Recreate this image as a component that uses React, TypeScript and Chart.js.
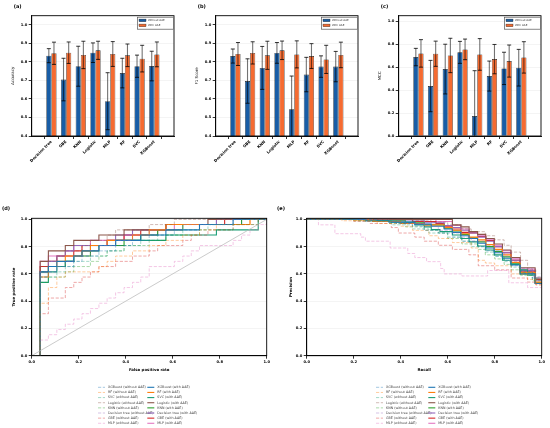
import { useEffect, useRef } from "react";
import { Chart, registerables } from "chart.js";

Chart.register(...registerables);

const FONT = "'DejaVu Sans', sans-serif";

// ---- bar panels (a)-(c) ----
const models = ["Decision tree", "GBE", "KNN", "Logistic", "MLP", "RF", "SVC", "XGBoost"];

const accWithout = [0.834, 0.705, 0.777, 0.85, 0.588, 0.74, 0.777, 0.778];
const accWithoutErr = [0.038, 0.115, 0.108, 0.053, 0.154, 0.08, 0.06, 0.08];
const accWith = [0.847, 0.85, 0.838, 0.863, 0.843, 0.836, 0.818, 0.841];
const accWithErr = [0.06, 0.058, 0.074, 0.049, 0.067, 0.061, 0.072, 0.067];

const f1Without = [0.832, 0.697, 0.768, 0.849, 0.544, 0.732, 0.775, 0.775];
const f1WithoutErr = [0.038, 0.12, 0.116, 0.056, 0.18, 0.093, 0.058, 0.082];
const f1With = [0.843, 0.849, 0.836, 0.863, 0.841, 0.832, 0.814, 0.838];
const f1WithErr = [0.062, 0.06, 0.076, 0.05, 0.073, 0.067, 0.076, 0.069];

const mccWithout = [0.689, 0.436, 0.584, 0.73, 0.174, 0.523, 0.59, 0.596];
const mccWithoutErr = [0.076, 0.224, 0.217, 0.096, 0.396, 0.131, 0.141, 0.16];
const mccWith = [0.721, 0.718, 0.703, 0.756, 0.712, 0.671, 0.654, 0.686];
const mccWithErr = [0.12, 0.11, 0.15, 0.09, 0.138, 0.128, 0.14, 0.137];

const scoreTicks = [0.4, 0.5, 0.6, 0.7, 0.8, 0.9, 1.0];
const mccTicks = [0, 0.2, 0.4, 0.6, 0.8, 1.0];
const unitTicks = [0, 0.2, 0.4, 0.6, 0.8, 1.0];

// ---- curve panels (d), (e) ----
const curveModels = ["XGBoost", "RF", "SVC", "Logistic", "KNN", "Decision tree", "GBE", "MLP"];
const curveColors = ["#1f77b4", "#ff7f0e", "#1b9e77", "#8c564b", "#2ca02c", "#9467bd", "#d62728", "#e377c2"];

type Pt = [number, number];

// ROC: [false positive rate, true positive rate]
const rocXgbWithout: Pt[] = [[0, 0], [0.036, 0.577], [0.071, 0.615], [0.107, 0.654], [0.179, 0.692], [0.214, 0.731], [0.286, 0.769], [0.357, 0.808], [0.429, 0.846], [0.5, 0.885], [0.607, 0.923], [0.714, 0.962], [0.857, 1], [1, 1]];
const rocRfWithout: Pt[] = [[0, 0], [0.036, 0.385], [0.071, 0.5], [0.107, 0.577], [0.143, 0.615], [0.286, 0.654], [0.321, 0.692], [0.357, 0.731], [0.429, 0.769], [0.5, 0.808], [0.571, 0.846], [0.643, 0.885], [0.714, 0.923], [0.786, 0.962], [0.929, 1], [1, 1]];
const rocSvcWithout: Pt[] = [[0, 0], [0.036, 0.577], [0.107, 0.615], [0.143, 0.654], [0.179, 0.692], [0.25, 0.731], [0.321, 0.769], [0.393, 0.808], [0.464, 0.846], [0.536, 0.885], [0.643, 0.923], [0.75, 0.962], [0.893, 1], [1, 1]];
const rocLogWithout: Pt[] = [[0, 0], [0.036, 0.654], [0.071, 0.692], [0.107, 0.731], [0.143, 0.769], [0.214, 0.808], [0.25, 0.846], [0.321, 0.885], [0.357, 0.923], [0.5, 0.962], [0.607, 1], [1, 1]];
const rocKnnWithout: Pt[] = [[0, 0], [0.036, 0.538], [0.071, 0.577], [0.143, 0.615], [0.179, 0.654], [0.25, 0.692], [0.286, 0.731], [0.321, 0.769], [0.393, 0.808], [0.5, 0.846], [0.571, 0.885], [0.714, 0.923], [0.857, 0.962], [0.964, 1], [1, 1]];
const rocDtWithout: Pt[] = [[0, 0], [0.036, 0.615], [0.107, 0.654], [0.143, 0.692], [0.179, 0.731], [0.25, 0.769], [0.286, 0.808], [0.357, 0.846], [0.429, 0.885], [0.5, 0.923], [0.643, 0.962], [0.786, 1], [1, 1]];
const rocGbeWithout: Pt[] = [[0, 0], [0.036, 0.308], [0.071, 0.423], [0.143, 0.5], [0.179, 0.538], [0.214, 0.577], [0.25, 0.615], [0.286, 0.654], [0.357, 0.692], [0.429, 0.731], [0.5, 0.769], [0.536, 0.808], [0.643, 0.846], [0.679, 0.885], [0.75, 0.923], [0.857, 0.962], [0.964, 1], [1, 1]];
const rocMlpWithout: Pt[] = [[0, 0], [0.036, 0.115], [0.071, 0.154], [0.107, 0.192], [0.143, 0.231], [0.179, 0.269], [0.214, 0.308], [0.25, 0.346], [0.286, 0.385], [0.321, 0.423], [0.357, 0.462], [0.393, 0.5], [0.429, 0.538], [0.464, 0.577], [0.5, 0.654], [0.607, 0.692], [0.643, 0.731], [0.679, 0.769], [0.714, 0.808], [0.857, 0.846], [0.893, 0.885], [0.929, 0.923], [0.964, 0.962], [1, 1]];

const rocXgbWith: Pt[] = [[0, 0], [0.036, 0.615], [0.071, 0.654], [0.107, 0.692], [0.179, 0.731], [0.214, 0.769], [0.286, 0.808], [0.357, 0.846], [0.464, 0.885], [0.571, 0.923], [0.714, 0.962], [0.857, 1], [1, 1]];
const rocRfWith: Pt[] = [[0, 0], [0.036, 0.577], [0.071, 0.654], [0.107, 0.692], [0.143, 0.731], [0.214, 0.769], [0.25, 0.808], [0.321, 0.846], [0.429, 0.885], [0.5, 0.923], [0.571, 0.962], [0.929, 1], [1, 1]];
const rocSvcWith: Pt[] = [[0, 0], [0.036, 0.538], [0.071, 0.615], [0.107, 0.654], [0.143, 0.692], [0.179, 0.731], [0.214, 0.769], [0.25, 0.808], [0.357, 0.846], [0.571, 0.885], [0.786, 0.923], [0.964, 1], [1, 1]];
const rocLogWith: Pt[] = [[0, 0], [0.036, 0.692], [0.071, 0.769], [0.143, 0.808], [0.179, 0.846], [0.286, 0.885], [0.393, 0.923], [0.571, 0.962], [0.75, 1], [1, 1]];
const rocKnnWith: Pt[] = [[0, 0], [0.036, 0.615], [0.071, 0.654], [0.143, 0.692], [0.179, 0.731], [0.25, 0.769], [0.286, 0.808], [0.393, 0.846], [0.464, 0.885], [0.536, 0.923], [0.643, 0.962], [0.893, 1], [1, 1]];
const rocDtWith: Pt[] = [[0, 0], [0.036, 0.615], [0.071, 0.692], [0.107, 0.731], [0.143, 0.769], [0.179, 0.808], [0.321, 0.846], [0.357, 0.885], [0.429, 0.923], [0.571, 0.962], [0.786, 1], [1, 1]];
const rocGbeWith: Pt[] = [[0, 0], [0.036, 0.654], [0.071, 0.692], [0.107, 0.731], [0.179, 0.769], [0.214, 0.808], [0.321, 0.846], [0.393, 0.885], [0.464, 0.923], [0.571, 0.962], [0.821, 1], [1, 1]];
const rocMlpWith: Pt[] = [[0, 0], [0.036, 0.692], [0.071, 0.731], [0.143, 0.769], [0.179, 0.808], [0.25, 0.846], [0.393, 0.885], [0.536, 0.923], [0.607, 0.962], [0.893, 1], [1, 1]];

// PR: [recall, precision]
const prXgbWithout: Pt[] = [[0, 1], [0.3, 0.99], [0.38, 0.97], [0.45, 0.95], [0.5, 0.92], [0.56, 0.9], [0.62, 0.87], [0.66, 0.84], [0.73, 0.8], [0.76, 0.77], [0.8, 0.73], [0.84, 0.7], [0.87, 0.66], [0.91, 0.62], [0.96, 0.57], [1, 0.57]];
const prRfWithout: Pt[] = [[0, 1], [0.15, 0.99], [0.3, 0.97], [0.4, 0.95], [0.45, 0.92], [0.52, 0.88], [0.56, 0.86], [0.62, 0.83], [0.7, 0.79], [0.73, 0.7], [0.76, 0.68], [0.8, 0.66], [0.87, 0.6], [0.94, 0.56], [0.975, 0.52], [1, 0.52]];
const prSvcWithout: Pt[] = [[0, 1], [0.22, 0.99], [0.36, 0.96], [0.45, 0.93], [0.52, 0.9], [0.6, 0.87], [0.66, 0.84], [0.7, 0.8], [0.76, 0.76], [0.8, 0.73], [0.84, 0.69], [0.87, 0.65], [0.91, 0.61], [0.96, 0.56], [1, 0.56]];
const prLogWithout: Pt[] = [[0, 1], [0.45, 0.99], [0.53, 0.98], [0.6, 0.96], [0.66, 0.93], [0.7, 0.91], [0.76, 0.88], [0.8, 0.85], [0.84, 0.81], [0.87, 0.76], [0.91, 0.7], [0.94, 0.63], [0.975, 0.56], [1, 0.56]];
const prKnnWithout: Pt[] = [[0, 1], [0.2, 0.99], [0.35, 0.97], [0.42, 0.945], [0.5, 0.92], [0.56, 0.9], [0.6, 0.86], [0.66, 0.82], [0.73, 0.78], [0.76, 0.74], [0.8, 0.71], [0.84, 0.67], [0.87, 0.63], [0.91, 0.59], [0.96, 0.55], [1, 0.55]];
const prDtWithout: Pt[] = [[0, 1], [0.35, 0.99], [0.42, 0.97], [0.5, 0.95], [0.56, 0.92], [0.62, 0.9], [0.66, 0.87], [0.7, 0.84], [0.76, 0.81], [0.8, 0.77], [0.84, 0.73], [0.87, 0.69], [0.91, 0.64], [0.96, 0.58], [1, 0.58]];
const prGbeWithout: Pt[] = [[0, 1], [0.2, 0.985], [0.27, 0.97], [0.36, 0.94], [0.39, 0.9], [0.46, 0.87], [0.5, 0.84], [0.56, 0.81], [0.62, 0.78], [0.69, 0.74], [0.73, 0.66], [0.8, 0.63], [0.87, 0.57], [0.94, 0.54], [0.975, 0.52], [1, 0.52]];
const prMlpWithout: Pt[] = [[0, 1], [0.05, 0.96], [0.12, 0.895], [0.23, 0.87], [0.25, 0.84], [0.355, 0.79], [0.43, 0.75], [0.46, 0.72], [0.51, 0.69], [0.57, 0.64], [0.585, 0.6], [0.66, 0.585], [0.77, 0.625], [0.86, 0.535], [0.94, 0.5], [1, 0.5]];

const prXgbWith: Pt[] = [[0, 1], [0.25, 0.99], [0.35, 0.98], [0.46, 0.965], [0.53, 0.95], [0.585, 0.93], [0.62, 0.905], [0.656, 0.88], [0.691, 0.86], [0.727, 0.825], [0.762, 0.79], [0.798, 0.755], [0.833, 0.715], [0.869, 0.665], [0.908, 0.6], [0.972, 0.53], [1, 0.53]];
const prRfWith: Pt[] = [[0, 1], [0.2, 0.995], [0.28, 0.985], [0.4, 0.97], [0.5, 0.96], [0.585, 0.94], [0.62, 0.92], [0.656, 0.895], [0.691, 0.87], [0.727, 0.85], [0.762, 0.815], [0.798, 0.78], [0.833, 0.74], [0.869, 0.685], [0.908, 0.61], [0.972, 0.54], [1, 0.54]];
const prSvcWith: Pt[] = [[0, 1], [0.25, 0.99], [0.36, 0.98], [0.46, 0.96], [0.5, 0.945], [0.53, 0.925], [0.567, 0.91], [0.62, 0.885], [0.656, 0.86], [0.691, 0.835], [0.727, 0.805], [0.762, 0.775], [0.798, 0.74], [0.833, 0.7], [0.869, 0.67], [0.908, 0.63], [0.94, 0.59], [0.972, 0.53], [1, 0.53]];
const prLogWith: Pt[] = [[0, 1], [0.62, 0.96], [0.656, 0.945], [0.691, 0.91], [0.727, 0.89], [0.762, 0.86], [0.798, 0.82], [0.833, 0.775], [0.869, 0.72], [0.908, 0.645], [0.972, 0.57], [1, 0.57]];
const prKnnWith: Pt[] = [[0, 1], [0.3, 0.99], [0.42, 0.975], [0.5, 0.96], [0.585, 0.935], [0.62, 0.915], [0.656, 0.89], [0.691, 0.865], [0.727, 0.835], [0.762, 0.8], [0.798, 0.765], [0.833, 0.725], [0.869, 0.675], [0.908, 0.6], [0.972, 0.535], [1, 0.535]];
const prDtWith: Pt[] = [[0, 1], [0.38, 0.995], [0.5, 0.975], [0.585, 0.955], [0.62, 0.94], [0.656, 0.92], [0.691, 0.9], [0.727, 0.87], [0.762, 0.84], [0.798, 0.8], [0.833, 0.755], [0.869, 0.7], [0.908, 0.625], [0.972, 0.55], [1, 0.55]];
const prGbeWith: Pt[] = [[0, 1], [0.45, 0.985], [0.55, 0.97], [0.585, 0.95], [0.62, 0.93], [0.656, 0.905], [0.691, 0.9], [0.727, 0.875], [0.762, 0.845], [0.798, 0.8], [0.833, 0.755], [0.869, 0.7], [0.908, 0.62], [0.972, 0.56], [1, 0.56]];
const prMlpWith: Pt[] = [[0, 1], [0.55, 0.985], [0.62, 0.955], [0.656, 0.93], [0.691, 0.905], [0.727, 0.88], [0.762, 0.85], [0.798, 0.81], [0.833, 0.77], [0.869, 0.71], [0.908, 0.635], [0.972, 0.56], [1, 0.56]];

const rocWithout = [rocXgbWithout, rocRfWithout, rocSvcWithout, rocLogWithout, rocKnnWithout, rocDtWithout, rocGbeWithout, rocMlpWithout];
const rocWith = [rocXgbWith, rocRfWith, rocSvcWith, rocLogWith, rocKnnWith, rocDtWith, rocGbeWith, rocMlpWith];
const prWithout = [prXgbWithout, prRfWithout, prSvcWithout, prLogWithout, prKnnWithout, prDtWithout, prGbeWithout, prMlpWithout];
const prWith = [prXgbWith, prRfWith, prSvcWith, prLogWith, prKnnWith, prDtWith, prGbeWith, prMlpWith];

const BLUE = "#185da6";
const ORANGE = "#f56b31";

function fade(hex: string, a: number) {
  const n = parseInt(hex.slice(1), 16);
  return `rgba(${(n >> 16) & 255},${(n >> 8) & 255},${n & 255},${a})`;
}

// axes box + panel letter
const framePlugin = {
  id: "frame",
  afterDraw(chart: any, _args: any, opts: any) {
    const { ctx, chartArea: a } = chart;
    ctx.save();
    ctx.strokeStyle = "#000";
    ctx.lineWidth = 0.9;
    ctx.strokeRect(a.left, a.top, a.right - a.left, a.bottom - a.top);
    ctx.fillStyle = "#000";
    ctx.font = `bold 5px ${FONT}`;
    ctx.textBaseline = "middle";
    ctx.fillText(opts.label, opts.lx, opts.ly);
    ctx.restore();
  },
};

const errorBarPlugin = {
  id: "errorBars",
  afterDatasetsDraw(chart: any, _args: any, opts: any) {
    const { ctx, chartArea: a, scales } = chart;
    ctx.save();
    ctx.beginPath();
    ctx.rect(a.left, a.top, a.right - a.left, a.bottom - a.top);
    ctx.clip();
    chart.data.datasets.forEach((ds: any, i: number) => {
      const meta = chart.getDatasetMeta(i);
      meta.data.forEach((el: any, j: number) => {
        const v = ds.data[j].y;
        const e = opts.errors[i][j];
        const top = scales.y.getPixelForValue(v + e);
        const bot = scales.y.getPixelForValue(v - e);
        ctx.strokeStyle = "rgba(0,0,0,0.55)";
        ctx.lineWidth = 1.1;
        ctx.beginPath();
        ctx.moveTo(el.x, top);
        ctx.lineTo(el.x, bot);
        ctx.stroke();
        ctx.strokeStyle = "#000";
        ctx.lineWidth = 0.8;
        ctx.beginPath();
        ctx.moveTo(el.x - 2, top);
        ctx.lineTo(el.x + 2, top);
        ctx.moveTo(el.x - 2, bot);
        ctx.lineTo(el.x + 2, bot);
        ctx.stroke();
      });
    });
    ctx.restore();
  },
};

const barLegendPlugin = {
  id: "barLegend",
  afterDraw(chart: any) {
    const { ctx, chartArea: a } = chart;
    const x0 = a.right - 36.5;
    const y0 = a.top + 1.5;
    ctx.save();
    ctx.fillStyle = "rgba(255,255,255,0.9)";
    ctx.fillRect(x0, y0, 36, 12);
    ctx.strokeStyle = "#555";
    ctx.lineWidth = 0.7;
    ctx.strokeRect(x0, y0, 36, 12);
    ctx.font = `2.7px ${FONT}`;
    ctx.textBaseline = "middle";
    chart.data.datasets.forEach((ds: any, i: number) => {
      const yy = y0 + 3.2 + i * 5;
      ctx.fillStyle = ds.backgroundColor;
      ctx.fillRect(x0 + 1.5, yy - 1.3, 7, 2.6);
      ctx.strokeStyle = "#222";
      ctx.lineWidth = 0.4;
      ctx.strokeRect(x0 + 1.5, yy - 1.3, 7, 2.6);
      ctx.fillStyle = "#333";
      ctx.fillText(ds.label, x0 + 10.5, yy);
    });
    ctx.restore();
  },
};

const curveLegendPlugin = {
  id: "curveLegend",
  afterDraw(chart: any, _args: any, opts: any) {
    const { ctx } = chart;
    ctx.save();
    ctx.font = `3.3px ${FONT}`;
    ctx.textBaseline = "middle";
    chart.data.datasets.forEach((ds: any) => {
      if (ds.legendCol === undefined) return;
      const x = opts.cols[ds.legendCol];
      const y = opts.y0 + ds.legendRow * opts.dy;
      ctx.strokeStyle = ds.borderColor;
      ctx.lineWidth = ds.borderWidth;
      ctx.setLineDash(ds.borderDash || []);
      ctx.beginPath();
      ctx.moveTo(x, y);
      ctx.lineTo(x + 7, y);
      ctx.stroke();
      ctx.setLineDash([]);
      ctx.fillStyle = "#444";
      ctx.fillText(ds.label, x + 10, y);
    });
    ctx.restore();
  },
};

const tickFont = { family: FONT, size: 3.7, weight: "bold" as const };

function barConfig(label: string, yTitle: string, without: number[], withoutErr: number[], withAae: number[], withErr: number[], yMin: number, yTicks: number[]): any {
  return {
    type: "bar",
    data: {
      datasets: [
        { label: "Without AAE", data: without.map((y, i) => ({ x: i, y })), backgroundColor: BLUE, borderColor: "#222", borderWidth: 0.6 },
        { label: "With AAE", data: withAae.map((y, i) => ({ x: i, y })), backgroundColor: ORANGE, borderColor: "#222", borderWidth: 0.6 },
      ],
    },
    options: {
      animation: false,
      responsive: false,
      maintainAspectRatio: false,
      events: [],
      layout: { padding: { left: 0, top: 15.7, right: 9, bottom: 0 } },
      datasets: { bar: { categoryPercentage: 0.7, barPercentage: 1 } },
      scales: {
        x: {
          type: "linear",
          min: -0.735,
          max: 7.735,
          afterBuildTicks: (s: any) => {
            s.ticks = models.map((_, i) => ({ value: i }));
          },
          ticks: { callback: (v: number) => models[v], minRotation: 45, maxRotation: 45, autoSkip: false, font: { ...tickFont, size: 3.9 }, color: "#000", padding: 0.5 },
          grid: { drawOnChartArea: false, tickLength: 3, tickColor: "#000", tickWidth: 0.8 },
          border: { color: "#000", width: 0.9 },
          afterFit: (s: any) => {
            s.height = 64;
          },
        },
        y: {
          min: yMin,
          max: 1.05,
          afterBuildTicks: (s: any) => {
            s.ticks = yTicks.map((v) => ({ value: v }));
          },
          ticks: { callback: (v: number) => Number(v).toFixed(1), font: tickFont, color: "#000", padding: 1.5 },
          grid: { color: "#ececec", lineWidth: 0.6, tickColor: "#000", tickLength: 3, tickWidth: 0.8 },
          border: { color: "#000", width: 0.9 },
          title: { display: true, text: yTitle, font: { family: FONT, size: 4 }, color: "#000", padding: { top: 10.6, bottom: 0 } },
          afterFit: (s: any) => {
            s.width = 31.7;
          },
        },
      },
      plugins: {
        legend: { display: false },
        tooltip: { enabled: false },
        errorBars: { errors: [withoutErr, withErr] },
        frame: { label, lx: 13.7, ly: 7 },
      },
    },
    plugins: [errorBarPlugin, framePlugin, barLegendPlugin],
  };
}

function curveConfig(label: string, xTitle: string, yTitle: string, without: Pt[][], withAae: Pt[][], diagonal: boolean, legendCols: number[], titlePad: number): any {
  const datasets: any[] = [];
  if (diagonal) {
    datasets.push({ data: [{ x: 0, y: 0 }, { x: 1, y: 1 }], borderColor: "#b5b5b5", borderWidth: 0.7, pointRadius: 0 });
  }
  without.forEach((pts, i) => {
    datasets.push({
      label: `${curveModels[i]} (without AAE)`,
      data: pts.map(([x, y]) => ({ x, y })),
      borderColor: fade(curveColors[i], 0.45),
      borderWidth: 0.9,
      borderDash: [3.2, 1.6],
      stepped: "before",
      pointRadius: 0,
      legendCol: 0,
      legendRow: i,
    });
  });
  withAae.forEach((pts, i) => {
    datasets.push({
      label: `${curveModels[i]} (with AAE)`,
      data: pts.map(([x, y]) => ({ x, y })),
      borderColor: curveColors[i],
      borderWidth: 1.1,
      stepped: "before",
      pointRadius: 0,
      legendCol: 1,
      legendRow: i,
    });
  });
  return {
    type: "line",
    data: { datasets },
    options: {
      animation: false,
      responsive: false,
      maintainAspectRatio: false,
      events: [],
      layout: { padding: { left: 0, top: 18.3, right: 8.3, bottom: 50 } },
      scales: {
        x: {
          type: "linear",
          min: 0,
          max: 1,
          afterBuildTicks: (s: any) => {
            s.ticks = unitTicks.map((v) => ({ value: v }));
          },
          ticks: { callback: (v: number) => Number(v).toFixed(1), font: tickFont, color: "#000", padding: 1, maxRotation: 0 },
          grid: { drawOnChartArea: false, tickLength: 3, tickColor: "#000", tickWidth: 0.8 },
          border: { color: "#000", width: 0.9 },
          title: { display: true, text: xTitle, font: { family: FONT, size: 3.9, weight: "bold" }, color: "#000", padding: { top: 0, bottom: 5.7 } },
          afterFit: (s: any) => {
            s.height = 22.3;
          },
        },
        y: {
          min: 0,
          max: 1.008,
          afterBuildTicks: (s: any) => {
            s.ticks = unitTicks.map((v) => ({ value: v }));
          },
          ticks: { callback: (v: number) => Number(v).toFixed(1), font: tickFont, color: "#000", padding: 1.5 },
          grid: { color: "#ececec", lineWidth: 0.6, tickColor: "#000", tickLength: 3, tickWidth: 0.8 },
          border: { color: "#000", width: 0.9 },
          title: { display: true, text: yTitle, font: { family: FONT, size: 3.9, weight: "bold" }, color: "#000", padding: { top: titlePad, bottom: 0 } },
          afterFit: (s: any) => {
            s.width = 31.7;
          },
        },
      },
      plugins: {
        legend: { display: false },
        tooltip: { enabled: false },
        frame: { label, lx: 2, ly: 9 },
        curveLegend: { cols: legendCols, y0: 187.3, dy: 5.14 },
      },
    },
    plugins: [framePlugin, curveLegendPlugin],
  };
}

function ChartBox({ left, top, width, height, make }: { left: number; top: number; width: number; height: number; make: () => any }) {
  const canvasRef = useRef<HTMLCanvasElement | null>(null);
  useEffect(() => {
    const canvas = canvasRef.current;
    if (!canvas) return;
    const chart = new Chart(canvas, make());
    return () => {
      chart.destroy();
    };
  }, []);
  return <canvas ref={canvasRef} width={width} height={height} style={{ position: "absolute", left, top, width, height }} />;
}

export default function App() {
  return (
    <div style={{ position: "absolute", left: 0, top: 0, width: 550, height: 428, overflow: "hidden", background: "#fff" }}>
      <ChartBox left={0} top={0} width={183} height={200}
        make={() => barConfig("(a)", "Accuracy", accWithout, accWithoutErr, accWith, accWithErr, 0.4, scoreTicks)} />
      <ChartBox left={184.3} top={0} width={183} height={200}
        make={() => barConfig("(b)", "F1 Score", f1Without, f1WithoutErr, f1With, f1WithErr, 0.4, scoreTicks)} />
      <ChartBox left={367.3} top={0} width={183} height={200}
        make={() => barConfig("(c)", "MCC", mccWithout, mccWithoutErr, mccWith, mccWithErr, 0, mccTicks)} />
      <ChartBox left={0} top={200} width={275} height={228}
        make={() => curveConfig("(d)", "False positive rate", "True positive rate", rocWithout, rocWith, true, [98, 147.3], 11.7)} />
      <ChartBox left={275} top={200} width={275} height={228}
        make={() => curveConfig("(e)", "Recall", "Precision", prWithout, prWith, false, [101, 153.3], 13.7)} />
    </div>
  );
}
